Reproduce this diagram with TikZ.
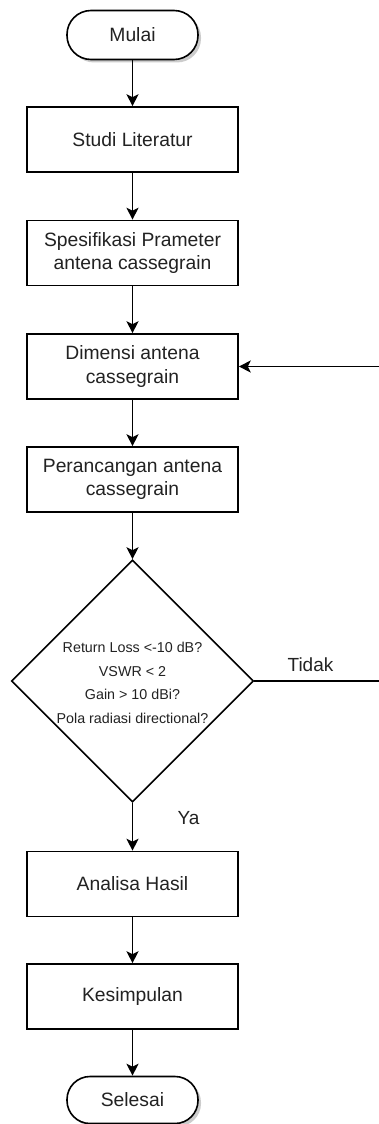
\documentclass[tikz,border=0pt]{standalone}
\usepackage{fontspec}
\setmainfont{Liberation Sans}
\usetikzlibrary{shapes.geometric,arrows.meta,shadows}
\definecolor{txt}{HTML}{222222}
\begin{document}
\begin{tikzpicture}[x=1pt,y=-1pt,
  every node/.style={text=txt},
  procbox/.style={draw=black, line width=1.6pt, fill=white, minimum width=211pt, minimum height=65pt, inner sep=2pt, align=center, font=\fontsize{19.3}{23.5}\selectfont},
  termbox/.style={draw=black, line width=1.6pt, fill=white, rounded corners=24pt, minimum width=131pt, minimum height=49pt, inner sep=0pt, font=\fontsize{19.3}{23.5}\selectfont, drop shadow={shadow xshift=3pt, shadow yshift=-3pt, opacity=0.4, fill=gray}},
  decbox/.style={draw=black, line width=1.6pt, fill=white, diamond, aspect=1, minimum width=242pt, minimum height=242pt, inner sep=0pt},
  dectext/.style={align=center, font=\fontsize{14.3}{23.5}\selectfont, inner sep=0pt},
  lbl/.style={font=\fontsize{19}{23}\selectfont, inner sep=0pt},
  flow/.style={draw=black, line width=1.6pt, -{Stealth[length=12pt, width=12pt, inset=3pt]}},
  plain/.style={draw=black, line width=1.6pt}
]
\useasboundingbox (0,0) rectangle (379,1124);
\node[termbox] (start) at (132.5,35) {Mulai};
\node[procbox] (b1) at (132.5,139.5) {Studi Literatur};
\node[procbox] (b2) at (132.5,253) {Spesifikasi Prameter\\antena cassegrain};
\node[procbox] (b3) at (132.5,366.5) {Dimensi antena\\cassegrain};
\node[procbox] (b4) at (132.5,479.5) {Perancangan antena\\cassegrain};
\node[decbox] (dec) at (132.5,681) {};
\node[dectext] (dect) at (132.5,683) {Return Loss <-10 dB?\\VSWR < 2\\Gain > 10 dBi?\\Pola radiasi directional?};
\node[procbox] (b5) at (132.5,884) {Analisa Hasil};
\node[procbox] (b6) at (132.5,996.5) {Kesimpulan};
\node[termbox, minimum height=47pt, rounded corners=23pt] (end) at (132.5,1100) {Selesai};
\coordinate (rdec) at (379,681);
\coordinate (rdim) at (379,366.5);
\node[lbl] (tidak) at (310.5,665) {Tidak};
\node[lbl] (ya) at (188.5,818) {Ya};
\draw[flow] (start) -- (b1);
\draw[flow] (b1) -- (b2);
\draw[flow] (b2) -- (b3);
\draw[flow] (b3) -- (b4);
\draw[flow] (b4) -- (dec.north);
\draw[flow] (dec.south) -- (b5);
\draw[flow] (b5) -- (b6);
\draw[flow] (b6) -- (end);
\draw[plain] (dec.east) -- (rdec);
\draw[flow] (rdim) -- (b3.east);
\end{tikzpicture}
\end{document}
